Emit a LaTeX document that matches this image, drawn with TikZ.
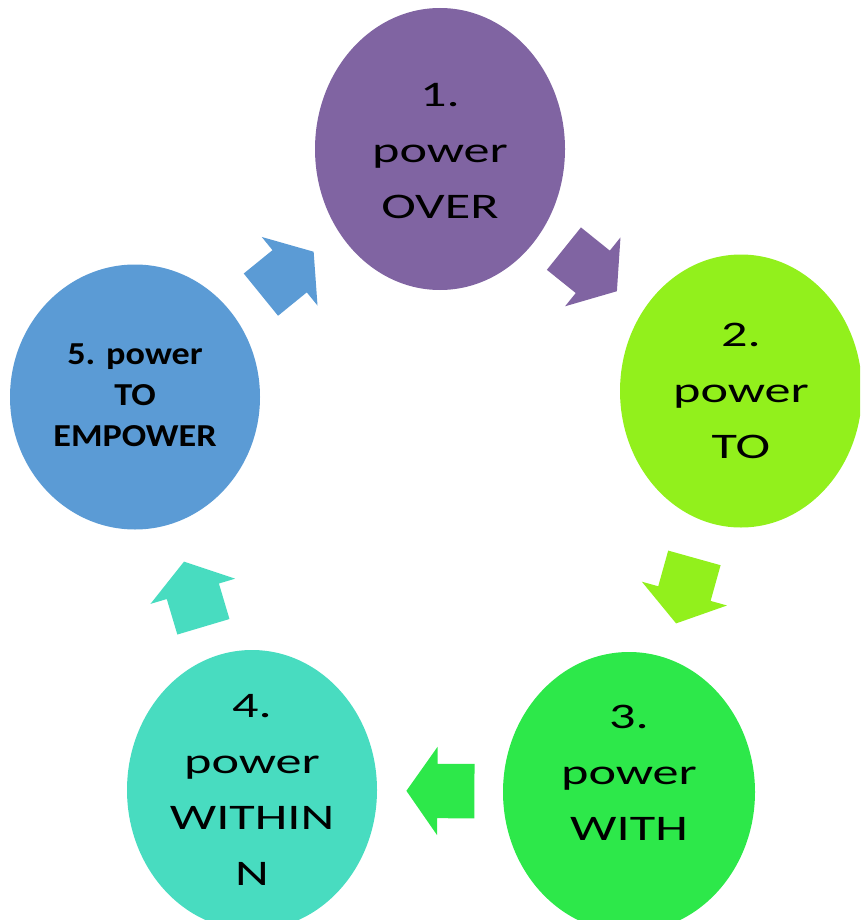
\documentclass[tikz,border=0pt]{standalone}
\usepackage{fontspec}
\newfontfamily\discfont[FakeStretch=1.45]{Carlito}
\newfontfamily\discboldfont[FakeStretch=1.13]{Carlito}
\usetikzlibrary{shapes.geometric,shapes.arrows}
\definecolor{over}{HTML}{8064A2}
\definecolor{to}{HTML}{92F01C}
\definecolor{with}{HTML}{2DE84A}
\definecolor{within}{HTML}{48DCC0}
\definecolor{empower}{HTML}{5B9BD5}
\begin{document}
\begin{tikzpicture}[x=1pt,y=-1pt,
    disc/.style={ellipse, minimum width=250, minimum height=280, inner sep=0},
    caption/.style={align=center, inner sep=0, font=\discfont\fontsize{36}{56}\selectfont},
    flow/.style={single arrow, minimum height=68, text height=27pt, text depth=27pt,
        single arrow head extend=17, single arrow tip angle=110, inner sep=0,
        pos=0.475, sloped, allow upside down}]
    \useasboundingbox (0,0) rectangle (860,920);
    \clip (0,0) rectangle (860,920);

    \node[disc, fill=over, minimum height=282] (c1) at (440,149) {};
    \node[disc, fill=to, minimum width=242, minimum height=273] (c2) at (741,391) {};
    \node[disc, fill=with, minimum width=252] (c3) at (629,792) {};
    \node[disc, fill=within] (c4) at (252,790) {};
    \node[disc, fill=empower, minimum height=265] (c5) at (135,397) {};

    \node[caption] (t1) at ([yshift=-2pt]c1.center) {1.\\power\\OVER};
    \node[caption] (t2) at (c2) {2.\\power\\TO};
    \node[caption] (t3) at ([yshift=19pt]c3.center) {3.\\power\\WITH};
    \node[caption] (t4) at (c4) {4.\\power\\WITHIN\\N};
    \node[caption, font=\discboldfont\bfseries\fontsize{32}{41}\selectfont] (t5) at ([yshift=2pt]c5.center) {5. power\\TO\\EMPOWER};

    \path (c1.center) -- (c2.center) node[flow, fill=over] (a1) {};
    \path (c2.center) -- (c3.center) node[flow, fill=to] (a2) {};
    \path (c3.center) -- (c4.center) node[flow, fill=with] (a3) {};
    \path (c4.center) -- (c5.center) node[flow, fill=within] (a4) {};
    \path (c5.center) -- (c1.center) node[flow, fill=empower] (a5) {};
\end{tikzpicture}
\end{document}
